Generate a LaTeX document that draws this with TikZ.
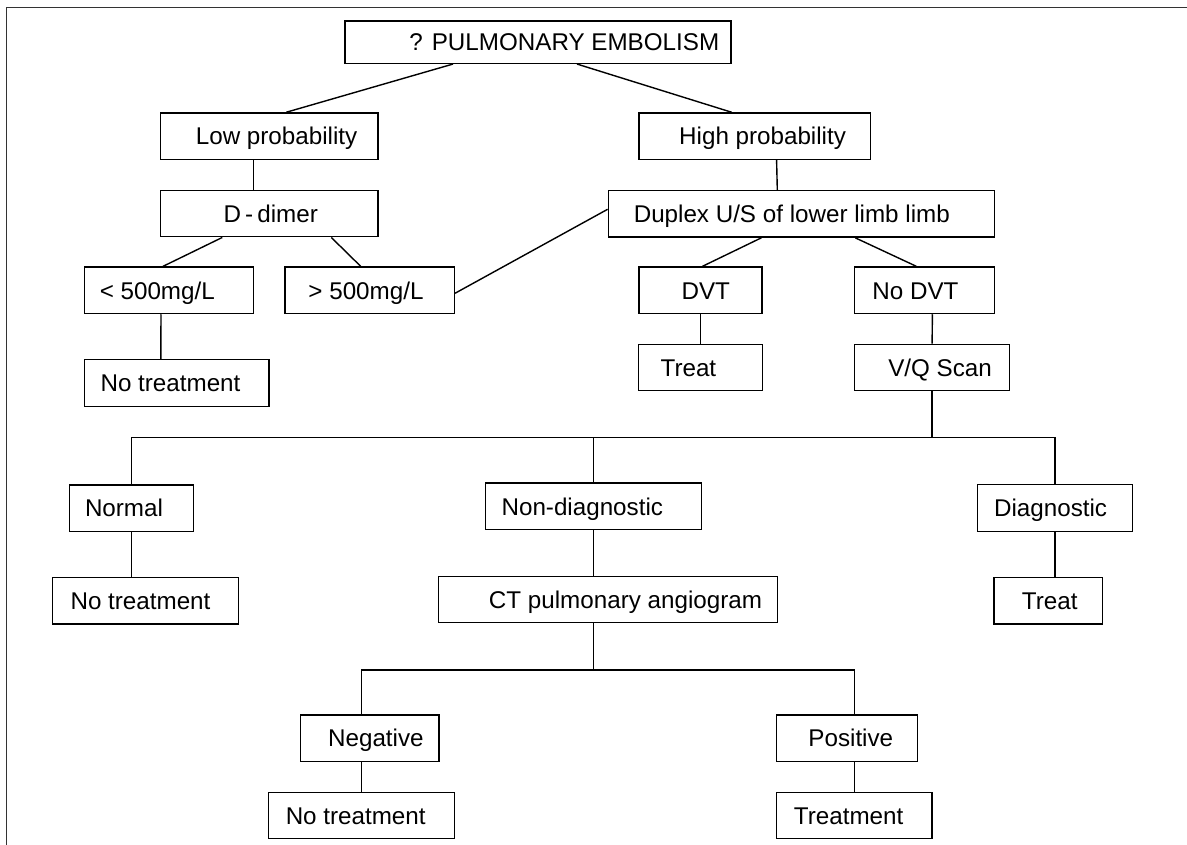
\documentclass[tikz,border=0pt]{standalone}
\usepackage{fontspec}
\setmainfont{Liberation Sans}
\begin{document}
\begin{tikzpicture}[
        x=1pt, y=-1pt,
        font=\fontsize{24.2}{29}\selectfont,
        box/.style={draw, line width=1.4pt, minimum height=46.5pt, inner sep=0pt,
                    text height=22.5pt, text depth=5pt},
        pad/.style={execute at begin node={\hspace*{#1pt}}},
        link/.style={line width=1.4pt}
    ]
        \useasboundingbox (0,0) rectangle (1187,845);
        % frame
        \draw[line width=1.5pt, black!80] (6.5,845) -- (6.5,7.3) -- (1187,7.3);

        % top
        \node[box, minimum width=386pt, minimum height=42.3pt, pad=52.6] (pe) at (538,42.2) {? PULMONARY EMBOLISM};
        \node[box, minimum width=217.7pt, pad=14.5] (low) at (269.3,136.2) {Low probability};
        \node[box, minimum width=231.6pt, pad=16] (high) at (754.6,136.2) {High probability};

        \draw[link] ([xshift=-85pt]pe.south) -- ([xshift=17pt]low.north);
        \draw[link] ([xshift=39pt]pe.south) -- ([xshift=-23pt]high.north);

        % low probability
        \node[box, minimum width=217.7pt, pad=3] (ddimer) at (269.3,213.5) {D\,-\,dimer};
        \node[box, minimum width=168.8pt, pad=-23.4] (lt500) at (169,290.3) {< 500mg/L};
        \node[box, minimum width=169.2pt, pad=-7.4] (gt500) at (369.7,290.3) {> 500mg/L};
        \node[box, minimum width=184.4pt, pad=-12.6] (notreatA) at (176.8,383) {No treatment};

        \draw[link] ([xshift=-16pt]low.south) -- ([xshift=-16pt]ddimer.north);
        \draw[link] ([xshift=-47pt]ddimer.south) -- ([xshift=-6pt]lt500.north);
        \draw[link] ([xshift=62pt]ddimer.south) -- ([xshift=-9pt]gt500.north);
        \draw[link] ([xshift=-8pt]lt500.south) -- ([xshift=-16pt]notreatA.north);

        % high probability
        \node[box, minimum width=386pt, pad=-19] (duplex) at (801.3,213.9) {Duplex U/S of lower limb limb};
        \node[box, minimum width=123.2pt, pad=10.8] (dvt) at (700.4,290.3) {DVT};
        \node[box, minimum width=139.7pt, pad=-17.8] (nodvt) at (924.4,290.3) {No DVT};
        \node[box, minimum width=123.8pt, pad=-24] (treatA) at (700.4,367.5) {Treat};
        \node[box, minimum width=155.2pt, pad=15.9] (vq) at (932.1,367.5) {V/Q Scan};

        \draw[link] ([xshift=22pt]high.south) -- ([xshift=-24pt]duplex.north);
        \draw[link] ([yshift=-3pt]gt500.east) -- ([yshift=4.6pt]duplex.west);
        \draw[link] ([xshift=-40pt]duplex.south) -- ([xshift=2pt]dvt.north);
        \draw[link] ([xshift=54pt]duplex.south) -- ([xshift=-8pt]nodvt.north);
        \draw[link] (dvt) -- (treatA);
        \draw[link] ([xshift=8pt]nodvt.south) -- (vq.north);

        % V/Q scan
        \node[box, minimum width=124pt, pad=-14.6] (normal) at (131.3,508.2) {Normal};
        \node[box, minimum width=215.9pt, pad=-22] (nondiag) at (593.3,506.3) {Non-diagnostic};
        \node[box, minimum width=155.4pt, pad=-8.8] (diag) at (1055,508) {Diagnostic};
        \node[box, minimum width=186pt, pad=-10.4] (notreatB) at (145.7,600.8) {No treatment};
        \node[box, minimum width=339.4pt, pad=35] (ct) at (608,599.5) {CT pulmonary angiogram};
        \node[box, minimum width=108.3pt, pad=3] (treatB) at (1048.2,600.8) {Treat};

        \draw[link] (vq.south) -- ++(0,46) coordinate (vqbus);
        \draw[link] (normal.north) |- (vqbus) -| (diag.north);
        \draw[link] (nondiag.north) -- (nondiag.north |- vqbus);
        \draw[link] (normal.south) -- (normal.south |- notreatB.north);
        \draw[link] (nondiag.south) -- (nondiag.south |- ct.north);
        \draw[link] (diag.south) -- (diag.south |- treatB.north);

        % CT pulmonary angiogram
        \node[box, minimum width=138.5pt, pad=12.2] (negative) at (369.8,738.2) {Negative};
        \node[box, minimum width=140.8pt, pad=7.4] (positive) at (847.1,738.2) {Positive};
        \node[box, minimum width=185.5pt, pad=-11.6] (notreatC) at (361.5,815.5) {No treatment};
        \node[box, minimum width=155.3pt, pad=-11.6] (treatment) at (854.4,815.5) {Treatment};

        \draw[link] (ct.south -| nondiag.south) -- ++(0,46.5) coordinate (ctbus);
        \draw[link] (negative.north -| notreatC.north) |- (ctbus) -| (positive.north -| treatment.north);
        \draw[link] (notreatC.north |- negative.south) -- (notreatC.north);
        \draw[link] (treatment.north |- positive.south) -- (treatment.north);
    \end{tikzpicture}
\end{document}
